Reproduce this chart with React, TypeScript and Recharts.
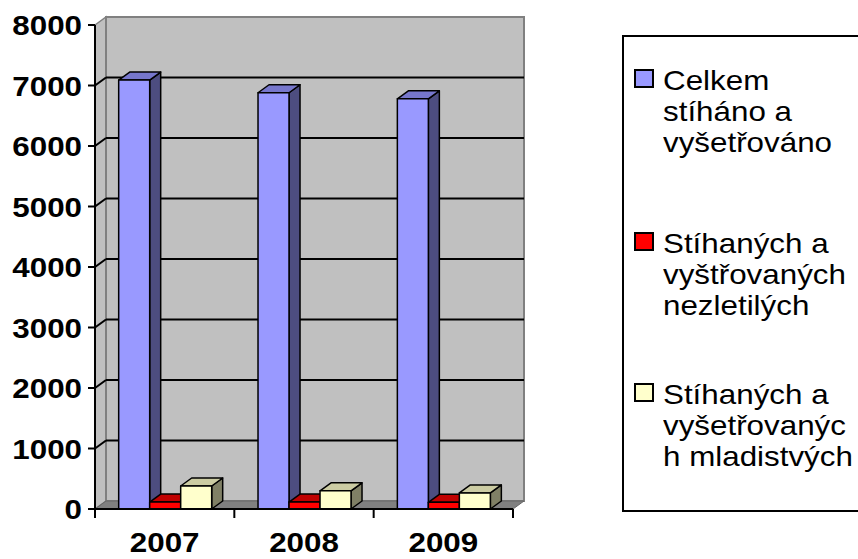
import { Bar, BarChart, ReferenceArea, XAxis, YAxis } from "recharts";

const years = ["2007", "2008", "2009"];
const celkem = [7090, 6880, 6780];
const nezletili = [115, 115, 110];
const mladistvi = [380, 300, 265];
const yTicks = [0, 1000, 2000, 3000, 4000, 5000, 6000, 7000, 8000];

const seriesNames = [
  "Celkem stíháno a vyšetřováno",
  "Stíhaných a vyštřovaných nezletilých",
  "Stíhaných a vyšetřovaných mladistvých",
];
// legend text wraps exactly like the original
const legendLines = [
  ["Celkem", "stíháno a", "vyšetřováno"],
  ["Stíhaných a", "vyštřovaných", "nezletilých"],
  ["Stíhaných a", "vyšetřovanýc", "h mladistvých"],
];

const data = years.map((year, i) => ({
  year,
  celkem: celkem[i],
  nezletili: nezletili[i],
  mladistvi: mladistvi[i],
}));

const FONT = '"Liberation Sans", Arial, sans-serif';
const FONT_SIZE = 28.5;
const STRETCH = 1.1;
// 3D depth offset
const DX = 11;
const DY = 8;

const colors = [
  { front: "#9999FF", top: "#7777CC", side: "#4D4D80" },
  { front: "#FF0000", top: "#C00000", side: "#800000" },
  { front: "#FFFFCC", top: "#CCCCA3", side: "#808066" },
];

function Walls(props: any) {
  const { x, y, width, height } = props;
  const bx = x + DX;
  const by = y - DY;
  const yMax = yTicks[yTicks.length - 1];
  const step = width / years.length;
  return (
    <g>
      <polygon
        points={`${x},${y} ${bx},${by} ${bx},${by + height} ${x},${y + height}`}
        fill="#C0C0C0"
        stroke="#808080"
        strokeWidth={1.5}
      />
      <rect x={bx} y={by} width={width} height={height} fill="#C0C0C0" stroke="#808080" strokeWidth={2} />
      <polygon
        points={`${x},${y + height} ${bx},${by + height} ${bx + width},${by + height} ${x + width},${y + height}`}
        fill="#808080"
        stroke="#666666"
        strokeWidth={1}
      />
      {yTicks.slice(1, -1).map((t) => {
        const yf = y + height * (1 - t / yMax);
        return (
          <g key={t}>
            <line x1={x} y1={yf} x2={bx} y2={yf - DY} stroke="#000" strokeWidth={2} />
            <line x1={bx} y1={yf - DY} x2={bx + width} y2={yf - DY} stroke="#000" strokeWidth={2} />
          </g>
        );
      })}
      {years.concat([""]).map((_, i) => (
        <line
          key={i}
          x1={x + i * step}
          y1={y + height}
          x2={x + i * step}
          y2={y + height + 9}
          stroke="#000"
          strokeWidth={2}
        />
      ))}
    </g>
  );
}

function make3DBar(c: { front: string; top: string; side: string }) {
  return (props: any) => {
    const { x, y, width, height } = props;
    if (!height || height <= 0) return <g />;
    const r = x + width;
    const b = y + height;
    return (
      <g stroke="#000" strokeWidth={1.5} strokeLinejoin="round">
        <polygon points={`${r},${y} ${r + DX},${y - DY} ${r + DX},${b - DY} ${r},${b}`} fill={c.side} />
        <polygon points={`${x},${y} ${x + DX},${y - DY} ${r + DX},${y - DY} ${r},${y}`} fill={c.top} />
        <rect x={x} y={y} width={width} height={height} fill={c.front} />
      </g>
    );
  };
}

function YTick(props: any) {
  const { x, y, payload } = props;
  return (
    <text
      transform={`translate(${x},${y + 10}) scale(${STRETCH},1)`}
      textAnchor="end"
      fontFamily={FONT}
      fontSize={FONT_SIZE}
      fontWeight="bold"
      fill="#000"
    >
      {payload.value}
    </text>
  );
}

function XTick(props: any) {
  const { x, y, payload } = props;
  return (
    <text
      transform={`translate(${x},${y + 43}) scale(${STRETCH},1)`}
      textAnchor="middle"
      fontFamily={FONT}
      fontSize={FONT_SIZE}
      fontWeight="bold"
      fill="#000"
    >
      {payload.value}
    </text>
  );
}

const itemTops = [28, 191, 342];

function ChartLegend() {
  return (
    <div
      style={{
        position: "absolute",
        left: 622,
        top: 35,
        width: 260,
        height: 473,
        border: "2px solid #000",
        background: "#fff",
        fontFamily: FONT,
        fontSize: FONT_SIZE,
        color: "#000",
      }}
    >
      {seriesNames.map((name, i) => (
        <div key={name} style={{ position: "absolute", left: 10, top: itemTops[i] }}>
          <span
            style={{
              position: "absolute",
              left: 0,
              top: 4,
              width: 16,
              height: 15,
              border: "2px solid #000",
              background: colors[i].front,
            }}
          />
          <div
            style={{
              position: "absolute",
              left: 29,
              top: 0,
              lineHeight: "31px",
              whiteSpace: "nowrap",
              transform: `scaleX(${STRETCH})`,
              transformOrigin: "left top",
            }}
          >
            {legendLines[i].map((line) => (
              <div key={line}>{line}</div>
            ))}
          </div>
        </div>
      ))}
    </div>
  );
}

export default function App() {
  return (
    <div
      style={{
        position: "absolute",
        left: 0,
        top: 0,
        width: 858,
        height: 559,
        overflow: "hidden",
        background: "#fff",
      }}
    >
      <BarChart
        width={858}
        height={559}
        data={data}
        margin={{ top: 25, right: 345, bottom: 0, left: 0 }}
        barCategoryGap="17%"
        barGap={0}
      >
        <XAxis
          dataKey="year"
          height={50}
          axisLine={{ stroke: "#000", strokeWidth: 2 }}
          tickLine={false}
          tickSize={0}
          tickMargin={0}
          tick={<XTick />}
        />
        <YAxis
          width={95}
          domain={[0, 8000]}
          ticks={yTicks}
          interval={0}
          axisLine={{ stroke: "#000", strokeWidth: 2 }}
          tickLine={{ stroke: "#000", strokeWidth: 2 }}
          tickSize={7}
          tickMargin={6}
          tick={<YTick />}
        />
        <ReferenceArea y1={0} y2={8000} shape={<Walls />} ifOverflow="visible" />
        <Bar dataKey="celkem" name={seriesNames[0]} shape={make3DBar(colors[0])} isAnimationActive={false} />
        <Bar dataKey="nezletili" name={seriesNames[1]} shape={make3DBar(colors[1])} isAnimationActive={false} />
        <Bar dataKey="mladistvi" name={seriesNames[2]} shape={make3DBar(colors[2])} isAnimationActive={false} />
      </BarChart>
      <ChartLegend />
    </div>
  );
}
